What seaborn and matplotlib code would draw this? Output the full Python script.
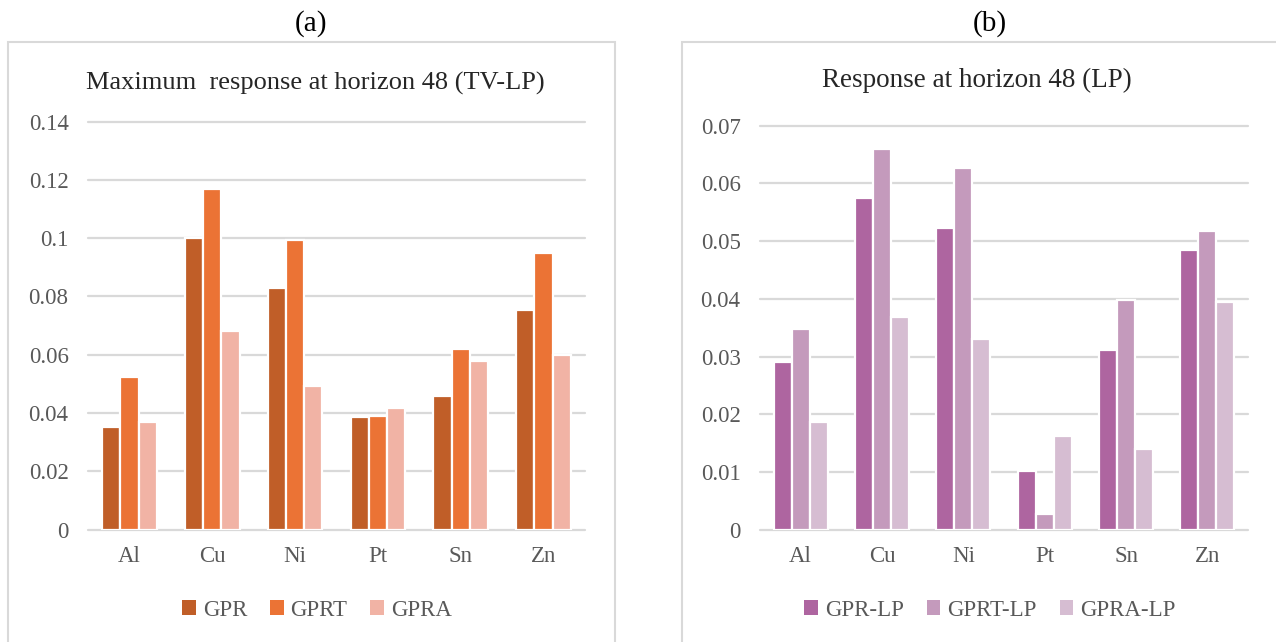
import pandas as pd
import matplotlib.pyplot as plt
import matplotlib.patches as mpatches
import seaborn as sns

# Data
metals = ['Al', 'Cu', 'Ni', 'Pt', 'Sn', 'Zn']

gpr = [0.0352, 0.1000, 0.0830, 0.0386, 0.0457, 0.0755]
gprt = [0.0524, 0.1170, 0.0993, 0.0391, 0.0621, 0.0948]
gpra = [0.0369, 0.0680, 0.0493, 0.0417, 0.0577, 0.0599]

gpr_lp = [0.0291, 0.0575, 0.0522, 0.0102, 0.0311, 0.0484]
gprt_lp = [0.0348, 0.0660, 0.0626, 0.0027, 0.0398, 0.0518]
gpra_lp = [0.0186, 0.0369, 0.0331, 0.0162, 0.0140, 0.0395]

left_names = ['GPR', 'GPRT', 'GPRA']
right_names = ['GPR-LP', 'GPRT-LP', 'GPRA-LP']
left_colors = ['#C05E28', '#EB7335', '#F1B3A5']
right_colors = ['#AE65A0', '#C49ABC', '#D6BDD2']

left_ticks = [0, 0.02, 0.04, 0.06, 0.08, 0.1, 0.12, 0.14]
left_ticklabels = ['0', '0.02', '0.04', '0.06', '0.08', '0.1', '0.12', '0.14']
right_ticks = [0, 0.01, 0.02, 0.03, 0.04, 0.05, 0.06, 0.07]
right_ticklabels = ['0', '0.01', '0.02', '0.03', '0.04', '0.05', '0.06', '0.07']


def long_table(names, series):
    rows = []
    for name, vals in zip(names, series):
        for m, v in zip(metals, vals):
            rows.append({'metal': m, 'model': name, 'value': v})
    return pd.DataFrame(rows)


df_left = long_table(left_names, [gpr, gprt, gpra])
df_right = long_table(right_names, [gpr_lp, gprt_lp, gpra_lp])

sns.set_style("white")
plt.rcParams['font.family'] = ['Liberation Serif', 'DejaVu Serif']

W, H = 1276, 642
fig = plt.figure(figsize=(W / 100, H / 100), dpi=100)

grid_col = '#D9D9D9'
txt_grey = '#595959'

# panel frames
for x0, x1 in [(8, 615), (682, 1290)]:
    fig.patches.append(mpatches.Rectangle((x0 / W, -0.05), (x1 - x0) / W, 1.05 - 42 / H,
                                          transform=fig.transFigure, fill=False,
                                          edgecolor=grid_col, linewidth=1.5))

ax1 = fig.add_axes([88 / W, 1 - 529.5 / H, 497 / W, (529.5 - 121.7) / H])
ax2 = fig.add_axes([760 / W, 1 - 529.7 / H, 488 / W, (529.7 - 125.7) / H])

panels = [
    (ax1, df_left, left_names, left_colors, left_ticks, left_ticklabels, 0.14),
    (ax2, df_right, right_names, right_colors, right_ticks, right_ticklabels, 0.07),
]

for ax, d, names, cols, ticks, tlabels, top in panels:
    sns.barplot(data=d, x='metal', y='value', hue='model', hue_order=names,
                palette=cols, saturation=1, width=0.66, edgecolor='white',
                linewidth=1.6, ax=ax, legend=False, zorder=3)
    ax.set_ylim(0, top)
    ax.set_xlim(-0.5, 5.5)
    ax.set_yticks(ticks)
    ax.set_yticklabels(tlabels)
    ax.set_xlabel('')
    ax.set_ylabel('')
    ax.grid(False)
    for t in ticks:
        ax.axhline(t, color=grid_col, linewidth=1.6, zorder=1, clip_on=False)
    for s in ax.spines.values():
        s.set_visible(False)
    ax.tick_params(axis='y', length=0, pad=14, labelsize=16.5, labelcolor=txt_grey)
    ax.tick_params(axis='x', length=0, pad=12, labelsize=16.5, labelcolor=txt_grey)
    ax.set_facecolor('none')

# legends
for names, cols, cx in [(left_names, left_colors, 317 / W), (right_names, right_colors, 990 / W)]:
    handles = [mpatches.Patch(facecolor=c, edgecolor='none', label=n) for n, c in zip(names, cols)]
    fig.legend(handles=handles, loc='center', bbox_to_anchor=(cx, 1 - 610 / H), ncol=3,
               frameon=False, fontsize=16.5, labelcolor=txt_grey, handlelength=0.6,
               handleheight=0.6, handletextpad=0.3, columnspacing=1.0)

# titles
fig.text(315 / W, 1 - 83 / H, 'Maximum  response at horizon 48 (TV-LP)',
         ha='center', va='center', fontsize=19, color='#262626')
fig.text(977 / W, 1 - 80 / H, 'Response at horizon 48 (LP)',
         ha='center', va='center', fontsize=19.5, color='#262626')
fig.text(311 / W, 1 - 24 / H, '(a)', ha='center', va='center', fontsize=21, color='black')
fig.text(990 / W, 1 - 24 / H, '(b)', ha='center', va='center', fontsize=21, color='black')

fig.savefig('out.png', dpi=100)
